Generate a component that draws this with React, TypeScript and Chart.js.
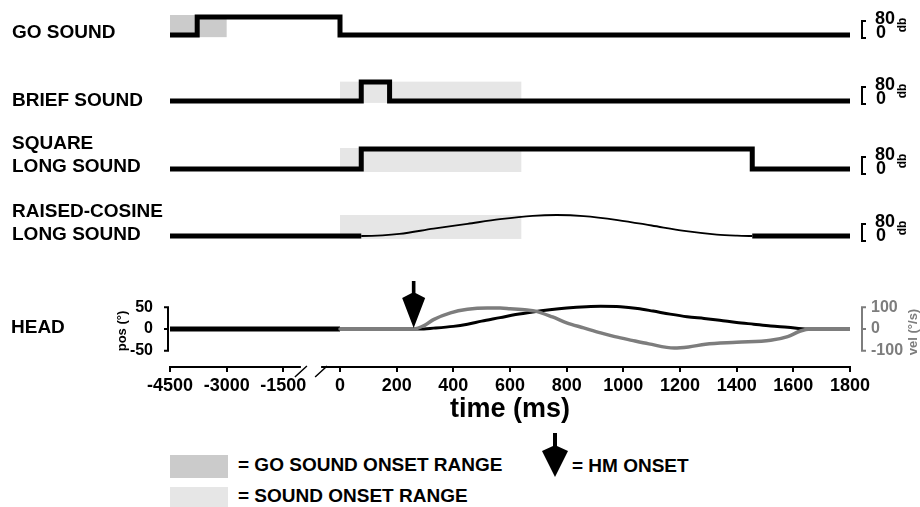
import React, { useEffect, useRef } from "react";
import { Chart, registerables } from "chart.js";

Chart.register(...registerables);

const FONT = "'Liberation Sans', Arial, Helvetica, sans-serif";
Chart.defaults.font.family = FONT;

// ---------- time axis (ms); negative times are compressed (broken axis) ----------
const NEG_COMPRESS = 7.5;
const toU = (t: number) => (t < 0 ? t / NEG_COMPRESS : t);
const fromU = (u: number) => (u < 0 ? Math.round(u * NEG_COMPRESS) : Math.round(u));
const X_START_MS = -4500;
const X_END_MS = 1800;
const X_TICK_STEP = 200;
const BREAK_FROM_MS = -1035;
const BREAK_TO_MS = -500;

// ---------- sound traces (level 0 = 0 dB, 1 = 80 dB) ----------
const GO_TIMES = [-4500, -3780, 0, 1800];
const GO_LEVELS = [0, 1, 0, 0];
const GO_ONSET_RANGE = [-4500, -3000];

const BRIEF_TIMES = [-4500, 75, 175, 1800];
const BRIEF_LEVELS = [0, 1, 0, 0];

const SQUARE_TIMES = [-4500, 75, 1455, 1800];
const SQUARE_LEVELS = [0, 1, 0, 0];

const COS_TIMES = [-4500, 75, 150, 210, 330, 450, 565, 680, 765, 860, 980, 1100, 1215, 1330, 1400, 1455, 1800];
const COS_LEVELS = [0, 0, 0.03, 0.1, 0.35, 0.58, 0.8, 0.96, 1, 0.95, 0.76, 0.5, 0.24, 0.07, 0.02, 0, 0];
const COS_ON = 75;
const COS_OFF = 1455;

const SOUND_ONSET_RANGE = [0, 640];

// ---------- head movement ----------
const PRE_TIMES = [-4500, 0];
const PRE_POS = [0, 0];
const POS_TIMES = [0, 280, 330, 400, 450, 500, 565, 620, 680, 740, 800, 870, 920, 990, 1050, 1105, 1165, 1225, 1285, 1340, 1400, 1460, 1520, 1580, 1650, 1720, 1800];
const POS_DEG = [0, 0, 2, 6, 11, 18, 26, 33, 39, 44, 48, 51, 52, 51, 47, 41, 34, 28, 24, 20, 15, 11, 7, 4, 0, 0, 0];
const VEL_TIMES = [0, 200, 260, 300, 330, 390, 450, 520, 565, 600, 660, 690, 750, 800, 860, 920, 970, 1030, 1090, 1180, 1230, 1290, 1400, 1520, 1580, 1625, 1660, 1720, 1800];
const VEL_DEG_S = [0, 0, 0, 18, 43, 74, 90, 96, 96, 93, 87, 82, 55, 28, 5, -18, -35, -52, -68, -87, -82, -70, -61, -52, -35, -9, 0, 0, 0];
const HM_ONSET = 260;

const POS_TICKS = [-50, 0, 50];
const VEL_TICKS = [-100, 0, 100];

// ---------- colours ----------
const GO_BOX = "#cbcbcb";
const SOUND_BOX = "#e6e6e6";
const VEL_COLOR = "#7d7d7d";

// ---------- layout (pixels) ----------
const PLOT_LEFT = 170;
const PLOT_RIGHT = 850;
const W = 920;

type RowSpec = {
  times: number[];
  levels: number[];
  stepped: boolean;
  thin?: [number, number];
  box: number[];
  boxColor: string;
  level0: number;
  level1: number;
  boxLo: number;
  boxHi: number;
};

const ROWS: RowSpec[] = [
  { times: GO_TIMES, levels: GO_LEVELS, stepped: true, box: GO_ONSET_RANGE, boxColor: GO_BOX, level0: 35, level1: 17, boxLo: -0.12, boxHi: 1.11 },
  { times: BRIEF_TIMES, levels: BRIEF_LEVELS, stepped: true, box: SOUND_ONSET_RANGE, boxColor: SOUND_BOX, level0: 101, level1: 82, boxLo: -0.1, boxHi: 1.02 },
  { times: SQUARE_TIMES, levels: SQUARE_LEVELS, stepped: true, box: SOUND_ONSET_RANGE, boxColor: SOUND_BOX, level0: 169, level1: 149, boxLo: -0.15, boxHi: 1.05 },
  { times: COS_TIMES, levels: COS_LEVELS, stepped: false, thin: [COS_ON, COS_OFF], box: SOUND_ONSET_RANGE, boxColor: SOUND_BOX, level0: 236, level1: 215, boxLo: -0.14, boxHi: 1.0 },
];

const ROW_LABELS: { lines: string[]; cy: number[] }[] = [
  { lines: ["GO SOUND"], cy: [32] },
  { lines: ["BRIEF SOUND"], cy: [100] },
  { lines: ["SQUARE", "LONG SOUND"], cy: [143, 166] },
  { lines: ["RAISED-COSINE", "LONG SOUND"], cy: [211, 234] },
];
const DB_BASES = [33, 99, 169, 236];

function RowChart({ spec }: { spec: RowSpec }) {
  const ref = useRef<HTMLCanvasElement>(null);
  const amp = spec.level0 - spec.level1;
  const top = Math.round(spec.level1 - 14);
  const bottom = Math.round(spec.level0 + 12);
  const height = bottom - top;
  const yMax = 1 + (spec.level1 - top) / amp;
  const yMin = -(bottom - spec.level0) / amp;

  useEffect(() => {
    const pts = spec.times.map((t, i) => ({ x: toU(t), y: spec.levels[i] }));
    const boxPlugin = {
      id: "rangeBox",
      beforeDatasetsDraw(chart: any) {
        const { ctx } = chart;
        const xs = chart.scales.x;
        const ys = chart.scales.y;
        const x0 = xs.getPixelForValue(toU(spec.box[0]));
        const x1 = xs.getPixelForValue(toU(spec.box[1]));
        const y0 = ys.getPixelForValue(spec.boxHi);
        const y1 = ys.getPixelForValue(spec.boxLo);
        ctx.save();
        ctx.fillStyle = spec.boxColor;
        ctx.fillRect(x0, y0, x1 - x0, y1 - y0);
        ctx.restore();
      },
    };
    const ds: any = {
      data: pts,
      borderColor: "#000",
      borderWidth: 5,
      pointRadius: 0,
      fill: false,
      borderCapStyle: "butt",
      borderJoinStyle: "miter",
      stepped: spec.stepped ? "before" : false,
      cubicInterpolationMode: spec.stepped ? "default" : "monotone",
    };
    if (spec.thin) {
      const [on, off] = spec.thin;
      ds.segment = {
        borderWidth: (c: any) =>
          spec.times[c.p0DataIndex] >= on && spec.times[c.p1DataIndex] <= off ? 1.8 : 5,
      };
    }
    const chart = new Chart(ref.current!, {
      type: "line",
      data: { datasets: [ds] },
      options: {
        responsive: false,
        animation: false,
        events: [],
        layout: { padding: { left: PLOT_LEFT, right: W - PLOT_RIGHT, top: 0, bottom: 0 } },
        plugins: { legend: { display: false }, tooltip: { enabled: false } },
        scales: {
          x: { type: "linear", display: false, min: toU(X_START_MS), max: X_END_MS },
          y: { type: "linear", display: false, min: yMin, max: yMax },
        },
      } as any,
      plugins: [boxPlugin],
    });
    return () => chart.destroy();
  }, []);

  return (
    <canvas
      ref={ref}
      width={W}
      height={height}
      style={{ position: "absolute", left: 0, top, display: "block" }}
    />
  );
}

const HEAD_TOP = 270;
const HEAD_HEIGHT = 157;

function HeadChart() {
  const ref = useRef<HTMLCanvasElement>(null);
  useEffect(() => {
    const decor = {
      id: "headDecor",
      afterDraw(chart: any) {
        const { ctx, chartArea } = chart;
        const xs = chart.scales.x;
        const yp = chart.scales.yPos;
        const yv = chart.scales.yVel;
        ctx.save();
        // left (position) bracket axis
        ctx.strokeStyle = "#000";
        ctx.lineWidth = 2;
        const lx = chartArea.left - 2;
        ctx.beginPath();
        ctx.moveTo(lx, yp.getPixelForValue(POS_TICKS[2]) - 1);
        ctx.lineTo(lx, yp.getPixelForValue(POS_TICKS[0]) + 1);
        POS_TICKS.forEach((v) => {
          const py = yp.getPixelForValue(v);
          ctx.moveTo(lx - 4, py);
          ctx.lineTo(lx + 1, py);
        });
        ctx.stroke();
        // right (velocity) bracket axis
        ctx.strokeStyle = VEL_COLOR;
        const rx = chartArea.right + 12;
        ctx.beginPath();
        ctx.moveTo(rx, yv.getPixelForValue(VEL_TICKS[2]) - 1);
        ctx.lineTo(rx, yv.getPixelForValue(VEL_TICKS[0]) + 1);
        VEL_TICKS.forEach((v) => {
          const py = yv.getPixelForValue(v);
          ctx.moveTo(rx - 1, py);
          ctx.lineTo(rx + 4, py);
        });
        ctx.stroke();
        // axis break
        const ay = chartArea.bottom;
        const b0 = xs.getPixelForValue(toU(BREAK_FROM_MS));
        const b1 = xs.getPixelForValue(toU(BREAK_TO_MS));
        ctx.fillStyle = "#fff";
        ctx.fillRect(b0, ay - 3, b1 - b0, 6);
        ctx.strokeStyle = "#000";
        ctx.lineWidth = 1.5;
        ctx.beginPath();
        [b0, b1].forEach((bx) => {
          ctx.moveTo(bx - 6, ay + 10);
          ctx.lineTo(bx + 6, ay - 1);
        });
        ctx.stroke();
        // HM onset arrow
        const tx = xs.getPixelForValue(HM_ONSET);
        const ty = yp.getPixelForValue(0) - 1;
        ctx.fillStyle = "#000";
        ctx.beginPath();
        ctx.moveTo(tx - 1.8, ty - 47);
        ctx.lineTo(tx - 1.8, ty - 35);
        ctx.lineTo(tx - 11.5, ty - 30);
        ctx.lineTo(tx, ty);
        ctx.lineTo(tx + 11.5, ty - 30);
        ctx.lineTo(tx + 1.8, ty - 35);
        ctx.lineTo(tx + 1.8, ty - 47);
        ctx.closePath();
        ctx.fill();
        ctx.restore();
      },
    };

    const chart = new Chart(ref.current!, {
      type: "line",
      data: {
        datasets: [
          {
            label: "vel",
            data: VEL_TIMES.map((t, i) => ({ x: toU(t), y: VEL_DEG_S[i] })),
            yAxisID: "yVel",
            borderColor: VEL_COLOR,
            borderWidth: 3.5,
            pointRadius: 0,
            cubicInterpolationMode: "monotone",
            borderCapStyle: "round",
            order: 0,
          },
          {
            label: "pos",
            data: POS_TIMES.map((t, i) => ({ x: toU(t), y: POS_DEG[i] })),
            yAxisID: "yPos",
            borderColor: "#000",
            borderWidth: 3,
            pointRadius: 0,
            cubicInterpolationMode: "monotone",
            borderCapStyle: "round",
            order: 1,
          },
          {
            label: "pre",
            data: PRE_TIMES.map((t, i) => ({ x: toU(t), y: PRE_POS[i] })),
            yAxisID: "yPos",
            borderColor: "#000",
            borderWidth: 5,
            pointRadius: 0,
            borderCapStyle: "butt",
            order: 2,
          },
        ],
      },
      options: {
        responsive: false,
        animation: false,
        events: [],
        layout: { padding: { left: 0, right: 0, top: 27, bottom: 0 } },
        plugins: { legend: { display: false }, tooltip: { enabled: false } },
        scales: {
          x: {
            type: "linear",
            position: "bottom",
            min: toU(X_START_MS),
            max: X_END_MS,
            afterFit: (s: any) => {
              s.height = 60;
            },
            ticks: {
              stepSize: X_TICK_STEP,
              autoSkip: false,
              maxRotation: 0,
              padding: 3,
              color: "#000",
              font: { size: 18, weight: "bold" },
              callback: (v: any) => String(fromU(Number(v))),
            },
            grid: { drawOnChartArea: false, drawTicks: true, tickLength: 5, color: "#000", lineWidth: 2 },
            border: { display: true, color: "#000", width: 2 },
            title: {
              display: true,
              text: "time (ms)",
              color: "#000",
              font: { size: 27, weight: "bold" },
              padding: { top: 0, bottom: 1 },
            },
          },
          yPos: {
            type: "linear",
            position: "left",
            min: -87,
            max: 65,
            afterFit: (s: any) => {
              s.width = PLOT_LEFT;
            },
            afterBuildTicks: (s: any) => {
              s.ticks = POS_TICKS.map((v) => ({ value: v }));
            },
            ticks: { color: "#000", padding: 17, font: { size: 16, weight: "bold" } },
            grid: { display: false, drawTicks: false },
            border: { display: false },
          },
          yVel: {
            type: "linear",
            position: "right",
            min: -174,
            max: 130,
            afterFit: (s: any) => {
              s.width = W - PLOT_RIGHT;
            },
            afterBuildTicks: (s: any) => {
              s.ticks = VEL_TICKS.map((v) => ({ value: v }));
            },
            ticks: { color: VEL_COLOR, padding: 21, font: { size: 16, weight: "bold" } },
            grid: { display: false, drawTicks: false },
            border: { display: false },
          },
        },
      } as any,
      plugins: [decor],
    });
    return () => chart.destroy();
  }, []);
  return (
    <canvas
      ref={ref}
      width={W}
      height={HEAD_HEIGHT}
      style={{ position: "absolute", left: 0, top: HEAD_TOP, display: "block" }}
    />
  );
}

function Txt({ x, cy, size, color = "#000", children }: any) {
  return (
    <div
      style={{
        position: "absolute",
        left: x,
        top: cy - size * 0.59,
        fontFamily: FONT,
        fontSize: size,
        fontWeight: "bold",
        lineHeight: `${size * 1.2}px`,
        color,
        whiteSpace: "nowrap",
      }}
    >
      {children}
    </div>
  );
}

function RotTxt({ cx, cy, size, color = "#000", children }: any) {
  return (
    <div
      style={{
        position: "absolute",
        left: cx,
        top: cy,
        transform: "translate(-50%, -50%) rotate(-90deg)",
        fontFamily: FONT,
        fontSize: size,
        fontWeight: "bold",
        lineHeight: `${size * 1.2}px`,
        color,
        whiteSpace: "nowrap",
      }}
    >
      {children}
    </div>
  );
}

export default function App() {
  return (
    <div
      style={{
        position: "absolute",
        left: 0,
        top: 0,
        width: W,
        height: 507,
        overflow: "hidden",
        background: "#fff",
      }}
    >
      {ROWS.map((r, i) => (
        <RowChart key={i} spec={r} />
      ))}
      <HeadChart />

      {ROW_LABELS.map((l, i) =>
        l.lines.map((s, j) => (
          <Txt key={`${i}-${j}`} x={12} cy={l.cy[j]} size={19}>
            {s}
          </Txt>
        ))
      )}
      <Txt x={11} cy={327} size={19}>
        HEAD
      </Txt>

      {DB_BASES.map((b, i) => (
        <React.Fragment key={i}>
          <div
            style={{
              position: "absolute",
              left: 861,
              top: b - 13,
              width: 3,
              height: 15,
              borderLeft: "2px solid #000",
              borderTop: "2px solid #000",
              borderBottom: "2px solid #000",
            }}
          />
          <Txt x={875} cy={b - 14} size={18}>
            80
          </Txt>
          <Txt x={876} cy={b} size={18}>
            0
          </Txt>
          <RotTxt cx={902} cy={b - 8} size={12}>
            db
          </RotTxt>
        </React.Fragment>
      ))}

      <RotTxt cx={122} cy={331} size={13}>
        pos (°)
      </RotTxt>
      <RotTxt cx={913} cy={332} size={13} color={VEL_COLOR}>
        vel (°/s)
      </RotTxt>

      {/* legend */}
      <div style={{ position: "absolute", left: 170, top: 455, width: 58, height: 23, background: GO_BOX }} />
      <Txt x={238} cy={465} size={19}>
        = GO SOUND ONSET RANGE
      </Txt>
      <div style={{ position: "absolute", left: 170, top: 487, width: 58, height: 22, background: SOUND_BOX }} />
      <Txt x={238} cy={496} size={19}>
        = SOUND ONSET RANGE
      </Txt>
      <svg
        width={30}
        height={50}
        style={{ position: "absolute", left: 540, top: 430 }}
        viewBox="0 0 30 50"
      >
        <polygon points="13,3 13,16 2,21 15,47 28,21 17,16 17,3" fill="#000" />
      </svg>
      <Txt x={572} cy={466} size={19}>
        = HM ONSET
      </Txt>
    </div>
  );
}
